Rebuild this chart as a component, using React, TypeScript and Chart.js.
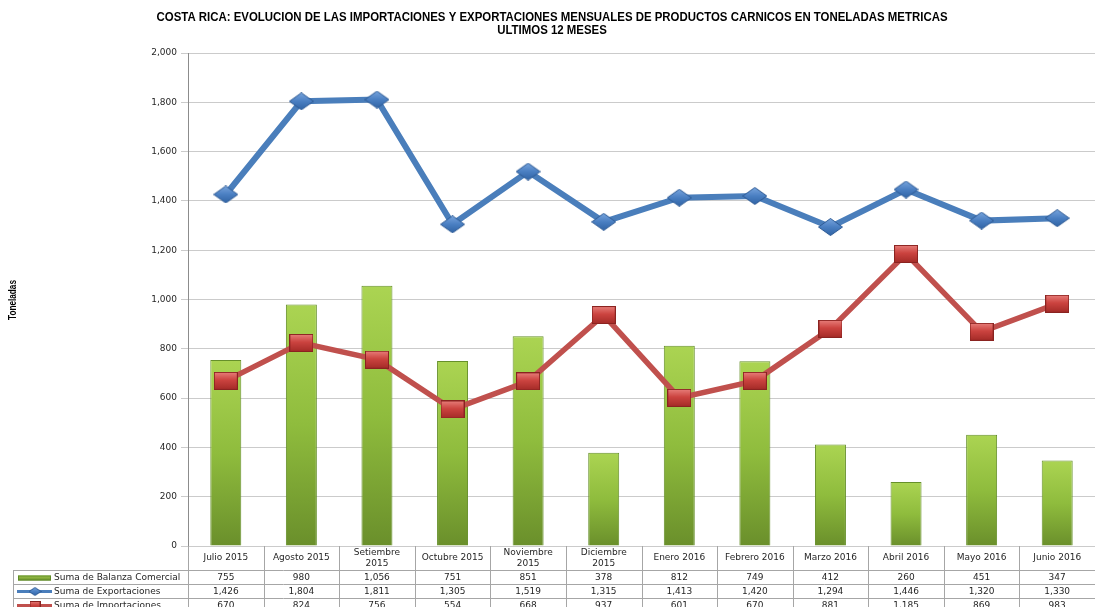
import React, { useEffect, useRef } from 'react';
import { Chart, registerables } from 'chart.js';

Chart.register(...registerables);

const categories: string[][] = [
  ['Julio 2015'], ['Agosto 2015'], ['Setiembre', '2015'], ['Octubre 2015'],
  ['Noviembre', '2015'], ['Diciembre', '2015'], ['Enero 2016'], ['Febrero 2016'],
  ['Marzo 2016'], ['Abril 2016'], ['Mayo 2016'], ['Junio 2016'],
];
const balanza = [755, 980, 1056, 751, 851, 378, 812, 749, 412, 260, 451, 347];
const exportaciones = [1426, 1804, 1811, 1305, 1519, 1315, 1413, 1420, 1294, 1446, 1320, 1330];
const importaciones = [670, 824, 756, 554, 668, 937, 601, 670, 881, 1185, 869, 983];
const seriesNames = ['Suma de Balanza Comercial', 'Suma de Exportaciones', 'Suma de Importaciones'];
const titleLines = [
  'COSTA RICA: EVOLUCION DE LAS IMPORTACIONES Y EXPORTACIONES MENSUALES DE PRODUCTOS CARNICOS EN TONELADAS METRICAS',
  'ULTIMOS 12 MESES',
];
const yAxisTitle = 'Toneladas';
const yMin = 0;
const yMax = 2000;
const yStep = 200;

const fmt = (v: number) => v.toLocaleString('en-US');

function makeDiamond(w: number, h: number) {
  const c = document.createElement('canvas');
  c.width = w; c.height = h;
  const g = c.getContext('2d')!;
  const grad = g.createLinearGradient(0, 0, 0, h);
  grad.addColorStop(0, '#7aa6de');
  grad.addColorStop(0.5, '#4a7fc2');
  grad.addColorStop(1, '#2f62a3');
  g.beginPath();
  g.moveTo(w / 2, 0.5);
  g.lineTo(w - 0.5, h / 2);
  g.lineTo(w / 2, h - 0.5);
  g.lineTo(0.5, h / 2);
  g.closePath();
  g.fillStyle = grad;
  g.fill();
  g.strokeStyle = '#2d5a94';
  g.lineWidth = 1;
  g.stroke();
  return c;
}

function makeSquare(w: number, h: number) {
  const c = document.createElement('canvas');
  c.width = w; c.height = h;
  const g = c.getContext('2d')!;
  const grad = g.createLinearGradient(0, 0, 0, h);
  grad.addColorStop(0, '#e8807c');
  grad.addColorStop(0.45, '#cc4440');
  grad.addColorStop(1, '#a32a27');
  g.fillStyle = grad;
  g.fillRect(0.5, 0.5, w - 1, h - 1);
  g.strokeStyle = '#8a2320';
  g.lineWidth = 1;
  g.strokeRect(0.5, 0.5, w - 1, h - 1);
  return c;
}

function fitText(ctx: CanvasRenderingContext2D, text: string, font: string, targetW: number, x: number, y: number) {
  ctx.font = font;
  const w = ctx.measureText(text).width;
  const sx = targetW / w;
  ctx.save();
  ctx.translate(x, y);
  ctx.scale(sx, 1);
  ctx.fillText(text, 0, 0);
  ctx.restore();
  return sx;
}

export default function App() {
  const ref = useRef<HTMLCanvasElement | null>(null);

  useEffect(() => {
    const canvas = ref.current!;
    const diamond = makeDiamond(25, 18);
    const square = makeSquare(24, 18);
    const smallDiamond = makeDiamond(13, 9);
    const smallSquare = makeSquare(11, 9);

    const barFill = (ctx: any) => {
      const chart = ctx.chart;
      const y = chart.scales.y;
      if (!y || ctx.raw == null) return '#8cba3c';
      const top = y.getPixelForValue(ctx.raw);
      const bottom = y.getPixelForValue(0);
      if (!isFinite(top) || !isFinite(bottom) || top === bottom) return '#8cba3c';
      const g = chart.ctx.createLinearGradient(0, top, 0, bottom);
      g.addColorStop(0, '#abd452');
      g.addColorStop(0.5, '#8fbc3d');
      g.addColorStop(1, '#6a8f2b');
      return g;
    };

    const tablePlugin = {
      id: 'tablePlugin',
      afterDraw(chart: any) {
        const ctx = chart.ctx as CanvasRenderingContext2D;
        const area = chart.chartArea;
        const xs = chart.scales.x;
        const n = categories.length;
        const colW = (area.right - area.left) / n;
        const top = area.bottom;
        const headerH = 24;
        const rowH = 14;
        const leftEdge = 13;
        const H = chart.height;

        ctx.save();
        // title
        ctx.fillStyle = '#000';
        ctx.textAlign = 'center';
        ctx.textBaseline = 'middle';
        const fam = '"Liberation Sans", Arial, sans-serif';
        const titleFont = `bold 12.5px ${fam}`;
        const sx = fitText(ctx, titleLines[0], titleFont, 791, 552, 18);
        ctx.save();
        ctx.translate(552, 31);
        ctx.scale(sx, 1);
        ctx.font = titleFont;
        ctx.fillText(titleLines[1], 0, 0);
        ctx.restore();

        // y axis title
        ctx.save();
        ctx.translate(13, 300);
        ctx.rotate(-Math.PI / 2);
        fitText(ctx, yAxisTitle, `bold 10px ${fam}`, 40, 0, 0);
        ctx.restore();

        // table grid
        ctx.strokeStyle = '#a6a6a6';
        ctx.lineWidth = 1;
        ctx.beginPath();
        for (let i = 0; i <= n; i++) {
          const xp = Math.round(area.left + i * colW) + 0.5;
          ctx.moveTo(xp, top);
          ctx.lineTo(xp, H);
        }
        for (let r = 0; r < 3; r++) {
          const yp = Math.round(top + headerH + r * rowH) + 0.5;
          ctx.moveTo(leftEdge, yp);
          ctx.lineTo(area.right, yp);
        }
        ctx.moveTo(leftEdge + 0.5, top + headerH);
        ctx.lineTo(leftEdge + 0.5, H);
        ctx.stroke();

        // header labels
        ctx.fillStyle = '#262626';
        ctx.font = '9px "DejaVu Sans", Verdana, sans-serif';
        ctx.textAlign = 'center';
        ctx.textBaseline = 'middle';
        categories.forEach((lines, i) => {
          const cx = xs.getPixelForValue(i);
          if (lines.length === 1) {
            ctx.fillText(lines[0], cx, top + 12);
          } else {
            ctx.fillText(lines[0], cx, top + 7);
            ctx.fillText(lines[1], cx, top + 18);
          }
        });

        // rows
        const rows = [balanza, exportaciones, importaciones];
        rows.forEach((vals, r) => {
          const cy = top + headerH + r * rowH + rowH / 2 + 0.5;
          ctx.textAlign = 'center';
          vals.forEach((v, i) => {
            ctx.fillText(fmt(v), xs.getPixelForValue(i), cy);
          });
          ctx.textAlign = 'left';
          ctx.fillText(seriesNames[r], 54, cy);
          // legend key
          if (r === 0) {
            const g = ctx.createLinearGradient(0, cy - 3, 0, cy + 3);
            g.addColorStop(0, '#abd452');
            g.addColorStop(1, '#6a8f2b');
            ctx.fillStyle = g;
            ctx.fillRect(18, cy - 2, 33, 5);
            ctx.strokeStyle = '#5f8a28';
            ctx.strokeRect(18.5, cy - 1.5, 32, 4);
          } else {
            ctx.strokeStyle = r === 1 ? '#4a7ebb' : '#c0504d';
            ctx.lineWidth = 3;
            ctx.beginPath();
            ctx.moveTo(17, cy);
            ctx.lineTo(52, cy);
            ctx.stroke();
            ctx.lineWidth = 1;
            const img = r === 1 ? smallDiamond : smallSquare;
            ctx.drawImage(img, 35 - img.width / 2, cy - img.height / 2);
          }
          ctx.fillStyle = '#262626';
        });
        ctx.restore();
      },
    };

    const chart = new Chart(canvas, {
      type: 'bar',
      data: {
        labels: categories.map((c) => c.join(' ')),
        datasets: [
          {
            type: 'bar',
            label: seriesNames[0],
            data: balanza,
            backgroundColor: barFill,
            borderColor: '#66902a',
            borderWidth: 1,
            categoryPercentage: 1,
            barPercentage: 0.41,
            order: 3,
          },
          {
            type: 'line',
            label: seriesNames[2],
            data: importaciones,
            borderColor: '#c0504d',
            borderWidth: 5.5,
            tension: 0,
            pointStyle: square as any,
            pointRadius: 10,
            order: 2,
          },
          {
            type: 'line',
            label: seriesNames[1],
            data: exportaciones,
            borderColor: '#4a7ebb',
            borderWidth: 6,
            tension: 0,
            pointStyle: diamond as any,
            pointRadius: 10,
            order: 1,
          },
        ] as any,
      },
      options: {
        animation: false,
        responsive: false,
        devicePixelRatio: 1,
        layout: { autoPadding: false, padding: { left: 0, right: 0, top: 53, bottom: 61 } },
        plugins: {
          legend: { display: false },
          title: { display: false },
          tooltip: { enabled: false },
        },
        scales: {
          x: {
            display: false,
            offset: true,
            grid: { display: false },
          },
          y: {
            min: yMin,
            max: yMax,
            ticks: {
              stepSize: yStep,
              callback: (v: any) => fmt(Number(v)),
              font: { family: '"DejaVu Sans", Verdana, sans-serif', size: 9 },
              color: '#262626',
              padding: 4,
            },
            grid: {
              color: '#cbcbcb',
              lineWidth: 1,
              tickLength: 7,
              drawTicks: true,
            },
            border: { color: '#8c8c8c', width: 1 },
            afterFit: (scale: any) => {
              scale.width = 188;
            },
          },
        },
      } as any,
      plugins: [tablePlugin],
    });
    return () => chart.destroy();
  }, []);

  return (
    <div style={{ position: 'absolute', left: 0, top: 0, width: 1095, height: 607, background: '#fff' }}>
      <canvas ref={ref} width={1095} height={607} style={{ width: 1095, height: 607, display: 'block' }} />
    </div>
  );
}
